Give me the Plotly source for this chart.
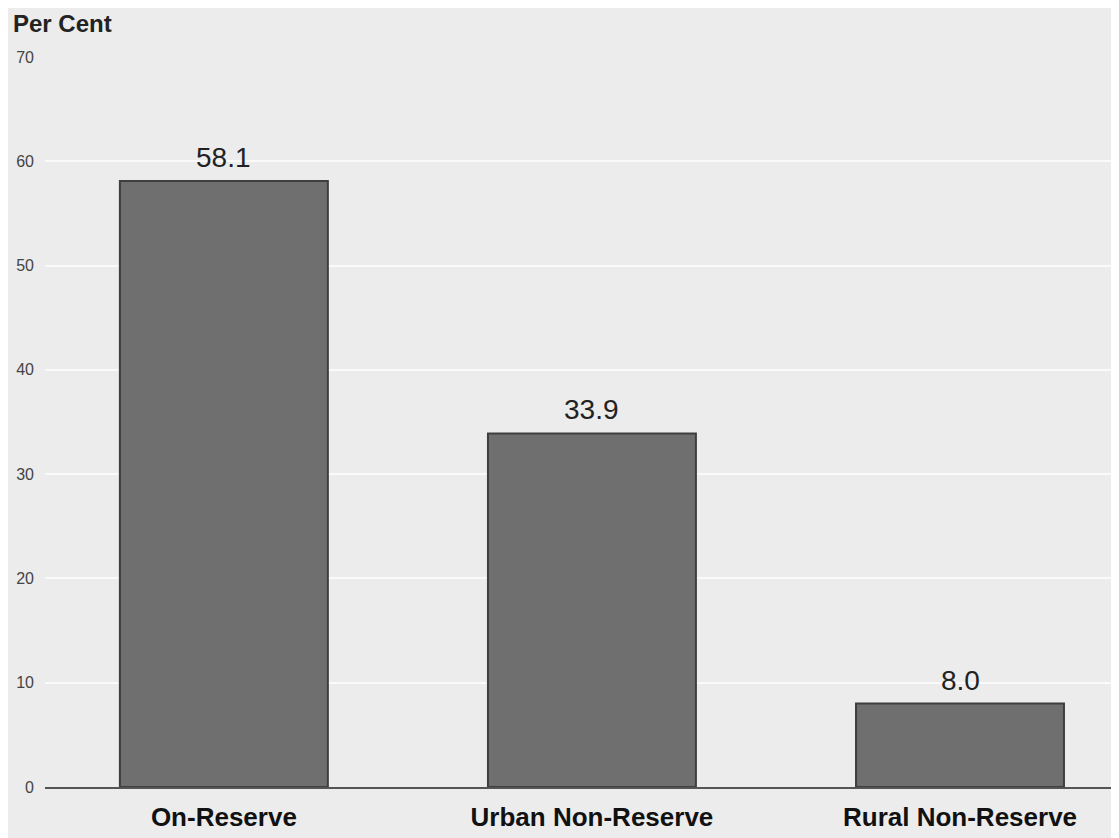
import plotly.graph_objects as go

categories = ["On-Reserve", "Urban Non-Reserve", "Rural Non-Reserve"]
values = [58.1, 33.9, 8.0]
value_labels = ["58.1", "33.9", "8.0"]
y_ticks = [0, 10, 20, 30, 40, 50, 60, 70]

fig = go.Figure()
fig.add_trace(go.Bar(
    x=categories,
    y=values,
    marker=dict(color="#6f6f6f", line=dict(color="#3e3e3e", width=2)),
    width=0.565,
))

annotations = [
    dict(x=c, y=v, text=t, xref="x", yref="y", showarrow=False,
         yanchor="bottom", yshift=6,
         font=dict(family="Liberation Sans, Arial, sans-serif", size=28, color="#222222"))
    for c, v, t in zip(categories, values, value_labels)
]
annotations.append(dict(
    text="<b>Per Cent</b>", xref="paper", yref="paper", x=-0.032, y=1.0,
    xanchor="left", yanchor="bottom", yshift=18, showarrow=False,
    font=dict(family="Liberation Sans Narrow, Arial Narrow, Liberation Sans, sans-serif", size=24, color="#222222"),
))

fig.update_layout(
    width=1119, height=838,
    margin=dict(l=37, r=8, t=49, b=59),
    paper_bgcolor="#ececec",
    plot_bgcolor="#ececec",
    showlegend=False,
    annotations=annotations,
)
fig.update_xaxes(
    range=[-0.486, 2.432],
    showgrid=False,
    showline=True, linecolor="#555555", linewidth=2,
    ticks="", ticklabelstandoff=6,
    tickfont=dict(family="Liberation Sans Narrow, Arial Narrow, Liberation Sans, sans-serif", size=26, color="#111111"),
    tickprefix="<b>", ticksuffix="</b>",
)
fig.update_yaxes(
    range=[0, 70],
    tickvals=y_ticks,
    showgrid=True, gridcolor="#fafafa", gridwidth=1.5,
    zeroline=False, showline=False,
    ticks="", ticklabelstandoff=10,
    tickfont=dict(family="Liberation Sans Narrow, Arial Narrow, Liberation Sans, sans-serif", size=16, color="#444444"),
)

fig.write_html("out.html")
